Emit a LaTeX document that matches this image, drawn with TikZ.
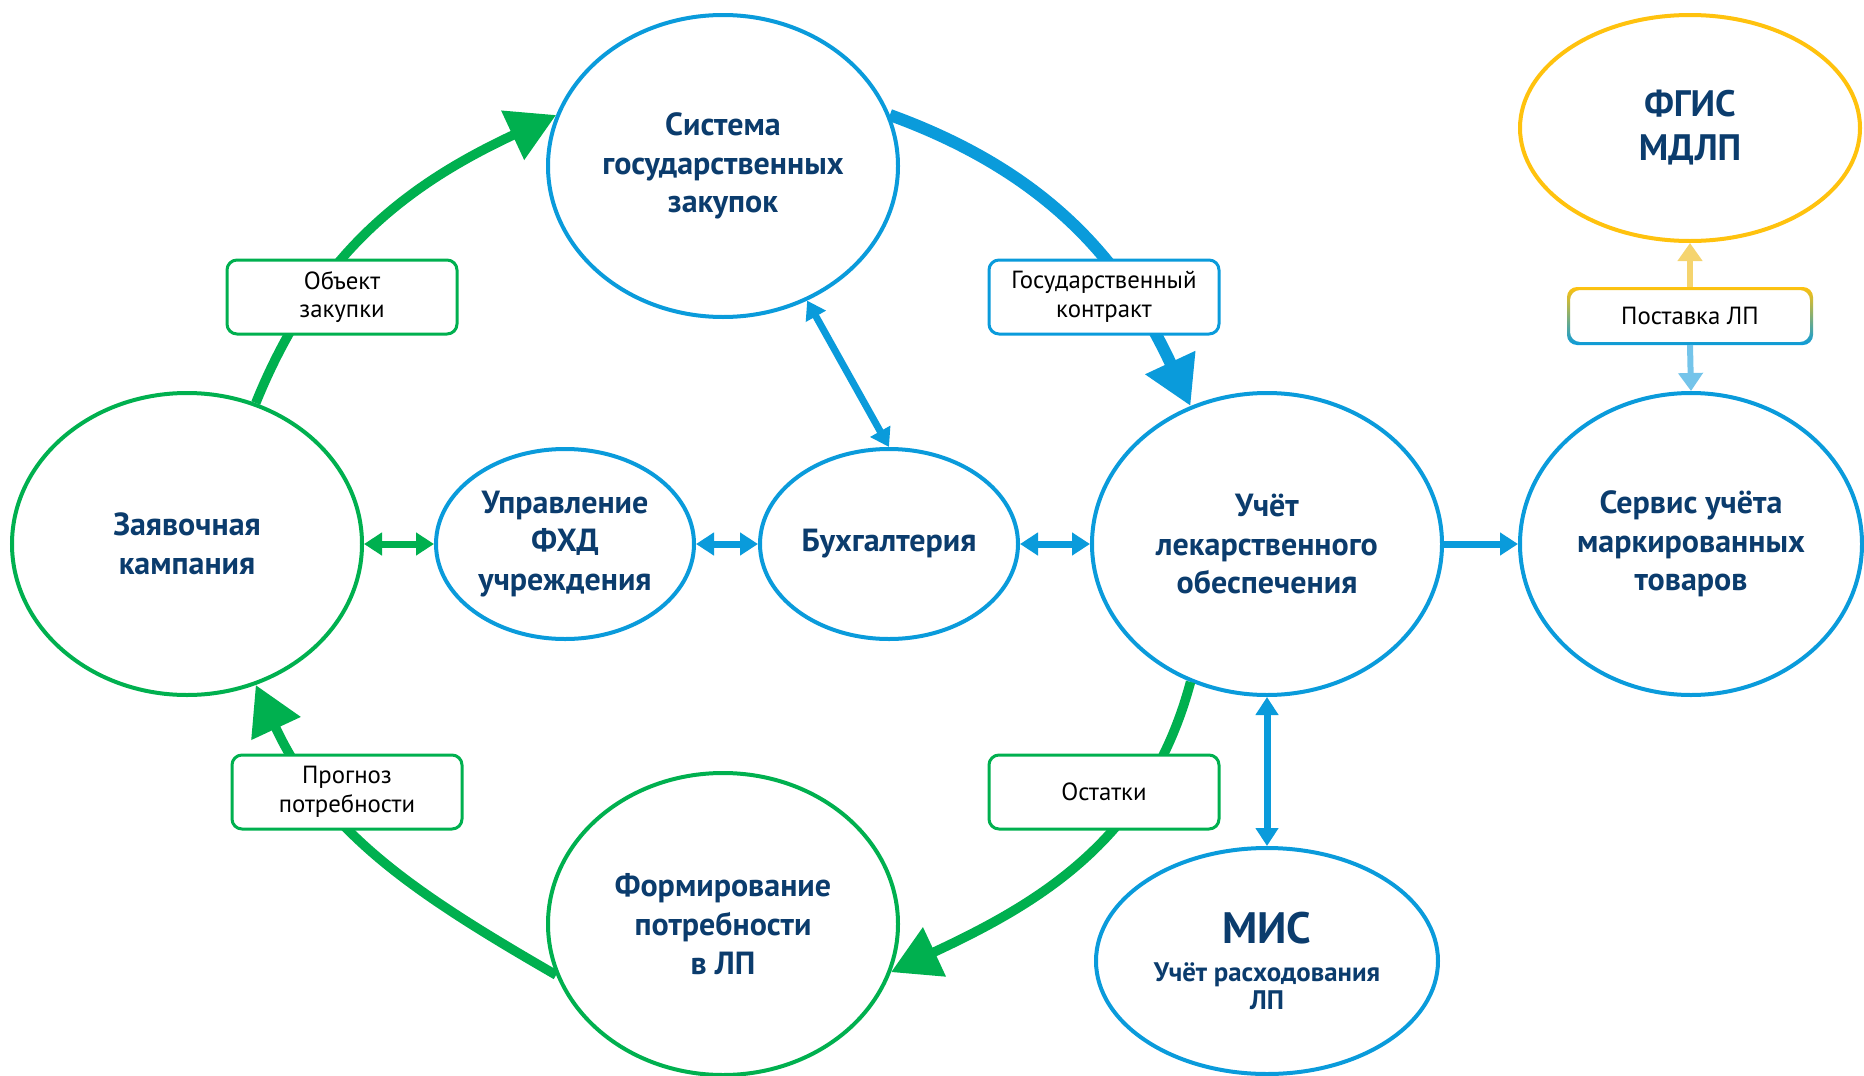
\documentclass[tikz,border=0pt]{standalone}
\usepackage{fontspec}
\setmainfont{PT Sans}
\usetikzlibrary{shapes.geometric,arrows.meta}

\definecolor{sysblue}{HTML}{0A9BDB}
\definecolor{sysgreen}{HTML}{00B04F}
\definecolor{sysyellow}{HTML}{FFC20E}
\definecolor{navy}{HTML}{0B3C6D}
\definecolor{paleyellow}{HTML}{F5D46E}
\definecolor{paleblue}{HTML}{74C4EA}

\begin{document}
\begin{tikzpicture}[
	x=0.5pt, y=0.5pt,
	sys/.style={
		ellipse, draw=sysblue, line width=2pt, fill=white,
		align=center, inner sep=0pt, text=navy,
		font=\fontsize{16}{19.3}\selectfont\bfseries,
	},
	big/.style={sys, minimum width=175pt, minimum height=151pt},
	small/.style={sys, minimum width=129pt, minimum height=95pt},
	note/.style={
		draw=sysgreen, line width=1.5pt, rounded corners=5pt, fill=white,
		minimum width=115pt, minimum height=37pt, align=center, inner sep=0pt,
		font=\fontsize{12.4}{14.3}\selectfont,
	},
	flow/.style={line width=4.75pt, -{Triangle[length=24pt,width=26pt]}},
	link/.style={line width=3.5pt, {Triangle[length=9pt,width=11pt]}-{Triangle[length=9pt,width=11pt]}},
]
\useasboundingbox (0,0) rectangle (1864,-1076);

% systems
\node[big] (zakup) at (723,-166) {Система\\государственных\\закупок};
\node[big, draw=sysgreen] (zayav) at (187,-544) {Заявочная\\кампания};
\node[small] (fhd) at (565,-544) {Управление\\ФХД\\учреждения};
\node[small] (buh) at (889,-544) {Бухгалтерия};
\node[big] (uchet) at (1267,-544) {Учёт\\лекарственного\\обеспечения};
\node[big, minimum width=171pt] (servis) at (1691,-544) {Сервис учёта\\маркированных\\товаров};
\node[big, draw=sysgreen] (form) at (723,-924) {Формирование\\потребности\\в ЛП};
\node[sys, minimum width=171pt, minimum height=113pt,
	font=\fontsize{13.4}{14.3}\selectfont\bfseries] (mis) at (1267,-961)
	{{\fontsize{22}{24}\selectfont МИС}\\[4.7pt]Учёт расходования\\ЛП};
\node[sys, draw=sysyellow, minimum width=170pt, minimum height=113pt,
	font=\fontsize{18.4}{22}\selectfont\bfseries] (fgis) at (1690,-128) {ФГИС\\МДЛП};

% main cycle
\draw[flow, sysgreen] (zayav.64) to[out=68, in=205] (zakup.163);
\draw[flow, sysblue, line width=6pt] (zakup.17) to[out=-20, in=115] (uchet.119);
\draw[flow, sysgreen] (uchet.241) to[out=255, in=25] (form.344);
\draw[flow, sysgreen] (form.197) to[out=150, in=295] (zayav.296);

% exchange
\draw[link, sysgreen] (zayav.east) -- (fhd.west);
\draw[link, sysblue] (fhd.east) -- (buh.west);
\draw[link, sysblue] (buh.east) -- (uchet.west);
\draw[link, sysblue] (zakup.-58) -- (buh.north);
\draw[link, sysblue] (uchet.south) -- (mis.north);
\draw[sysblue, line width=3.5pt, -{Triangle[length=9pt,width=11pt]}] (uchet.east) -- (servis.west);

% labels on the cycle
\node[note] (obj) at (342,-297) {Объект\\закупки};
\node[note, draw=sysblue] (gk) at (1104,-297) {Государственный\\контракт};
\node[note] (prog) at (347,-792) {Прогноз\\потребности};
\node[note] (ost) at (1104,-792) {Остатки};

% delivery
\node[note, draw=none, minimum width=121.5pt, minimum height=27.5pt] (post) at (1690,-316) {Поставка ЛП};
\shade[top color=sysyellow, bottom color=sysblue, even odd rule, rounded corners=5pt]
	(post.south west) rectangle (post.north east)
	([shift={(1.5pt,1.5pt)}]post.south west) rectangle ([shift={(-1.5pt,-1.5pt)}]post.north east);
\draw[paleyellow, line width=3pt, -{Triangle[length=9pt,width=12pt]}] (post.north) -- (fgis.south);
\draw[paleblue, line width=3pt, -{Triangle[length=9pt,width=12pt]}] (post.south) -- (servis.north);

\end{tikzpicture}
\end{document}
